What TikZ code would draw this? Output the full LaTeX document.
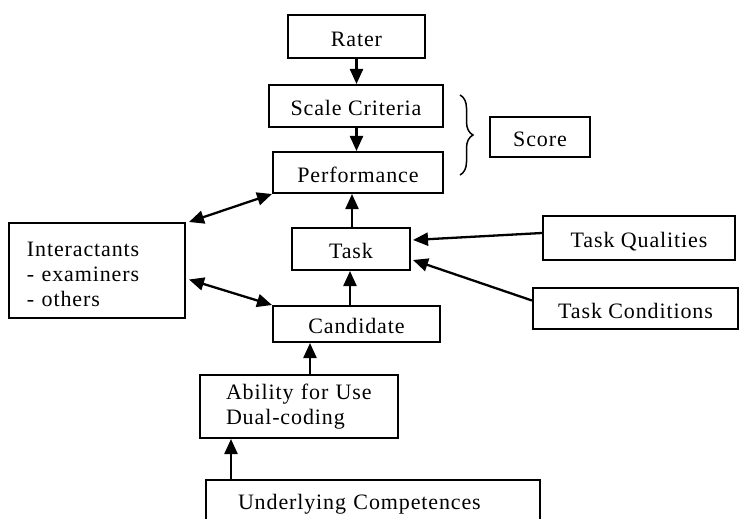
\documentclass[tikz,border=0pt]{standalone}
\usepackage{fontspec}
\setmainfont[LetterSpace=4]{Liberation Serif}
\usetikzlibrary{arrows.meta,decorations.pathreplacing}
\begin{document}
\begin{tikzpicture}[x=1pt,y=-1pt,
  box/.style={draw,line width=2pt,rectangle,inner sep=0pt,
    font=\fontsize{22}{25}\selectfont,text height=19.5pt,text depth=0pt},
  mbox/.style={draw,line width=2pt,rectangle,inner ysep=0pt,
    font=\fontsize{22}{25}\selectfont,align=left},
  arr/.style={line width=2.3pt,-{Triangle[length=15pt,width=13pt]}},
  darr/.style={line width=2.3pt,{Triangle[length=15pt,width=13pt]}-{Triangle[length=15pt,width=13pt]}}]
\useasboundingbox (0,0) rectangle (740,519);
\node[box,minimum width=137pt,minimum height=43pt] (rater) at (356.5,36.5) {Rater};
\node[box,minimum width=174pt,minimum height=42pt] (scale) at (356,106) {Scale Criteria};
\node[box,minimum width=170pt,minimum height=41pt] (perf) at (358,172.5) {Performance};
\node[box,minimum width=100pt,minimum height=40pt] (score) at (540,137) {Score};
\node[box,minimum width=118pt,minimum height=42pt] (task) at (351,249) {Task};
\node[box,minimum width=167pt,minimum height=36pt] (cand) at (356.5,324) {Candidate};
\node[box,minimum width=192pt,minimum height=44pt] (tq) at (639,238) {Task Qualities};
\node[box,minimum width=205pt,minimum height=41pt] (tc) at (635.5,308.5) {Task Conditions};
\node[mbox,minimum width=176pt,minimum height=95pt,inner xsep=18pt,text width=140pt] (inter) at (97,270.5) {\rule{0pt}{22pt}Interactants\\- examiners\\- others};
\node[mbox,minimum width=198pt,minimum height=63pt,inner xsep=26pt,text width=146pt] (abil) at (299,406.5) {Ability for Use\\Dual-coding};
\node[box,anchor=north,minimum width=334pt,inner xsep=32pt,inner ysep=10pt,text width=270pt,align=left,text depth=15pt] (under) at (373,479) {Underlying Competences};
\coordinate (bt) at (460,95);
\coordinate (bb) at (460,175);
\draw[line width=1.5pt,decorate,decoration={brace,amplitude=13pt}] (bt) -- (bb);
\draw[arr] (rater.south) -- (rater.south |- scale.north);
\draw[arr] (rater.south |- scale.south) -- (rater.south |- perf.north);
\draw[arr] ([xshift=1pt]task.north) -- ([xshift=1pt]task.north |- perf.south);
\draw[arr] ([xshift=-1pt]task.south |- cand.north) -- ([xshift=-1pt]task.south);
\draw[arr] ([xshift=11pt]abil.north |- cand.south) ++(0,33) -- ([xshift=11pt]abil.north |- cand.south);
\draw[arr] ([xshift=26pt]under.north west) -- ([xshift=26pt]under.north west |- abil.south);
\draw[darr] ([xshift=3pt]inter.north east) -- (perf.south west);
\draw[darr] ([xshift=3pt,yshift=-9pt]inter.east) -- (cand.north west);
\draw[arr] ([yshift=5pt]tq.west) -- ([xshift=2pt,yshift=9pt]task.east);
\draw[arr] ([yshift=8pt]tc.west) -- ([xshift=2pt,yshift=-11pt]task.east);
\end{tikzpicture}
\end{document}
